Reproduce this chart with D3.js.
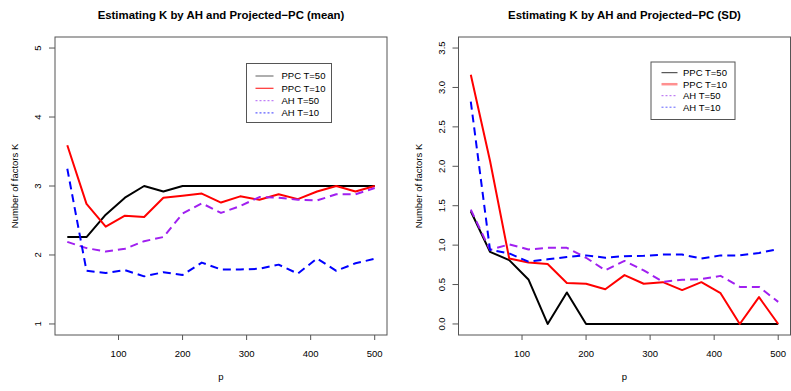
<!DOCTYPE html>
<html>
<head>
  <meta charset="utf-8">
  <title></title>
<style>
  body { margin: 0; background: #fff; }
  svg text { font-family: "Liberation Sans", Arial, sans-serif; fill: #000; }
  .title { font-size: 11.4px; font-weight: bold; text-anchor: middle; }
  .tick-label { font-size: 9.5px; }
  .axis-title { font-size: 9.5px; text-anchor: middle; }
  .legend text { font-size: 9.5px; }
</style>
</head>
<body>
<svg width="791" height="391"></svg>
<script src="https://d3js.org/d3.v7.min.js"></script>
<script>

// p values on the x axis
var pValues = [20, 50, 80, 110, 140, 170, 200, 230, 260, 290, 320, 350, 380, 410, 440, 470, 500];

// mean of estimated K
var meanPPC50 = [2.26, 2.26, 2.585, 2.83, 3.0, 2.92, 3.0, 3.0, 3.0, 3.0, 3.0, 3.0, 3.0, 3.0, 3.0, 3.0, 3.0];
var meanPPC10 = [3.59, 2.74, 2.41, 2.57, 2.55, 2.83, 2.86, 2.89, 2.76, 2.85, 2.80, 2.88, 2.81, 2.92, 3.0, 2.92, 3.0];
var meanAH50  = [2.19, 2.10, 2.05, 2.09, 2.20, 2.26, 2.60, 2.75, 2.61, 2.71, 2.84, 2.83, 2.80, 2.79, 2.88, 2.88, 2.97];
var meanAH10  = [3.25, 1.77, 1.74, 1.78, 1.69, 1.75, 1.71, 1.89, 1.79, 1.79, 1.80, 1.86, 1.73, 1.95, 1.77, 1.88, 1.945];

// SD of estimated K
var sdPPC50 = [1.43, 0.915, 0.81, 0.565, 0, 0.40, 0, 0, 0, 0, 0, 0, 0, 0, 0, 0, 0];
var sdPPC10 = [3.16, 2.07, 0.83, 0.78, 0.76, 0.52, 0.51, 0.44, 0.62, 0.51, 0.53, 0.43, 0.53, 0.39, 0, 0.34, 0];
var sdAH50  = [1.45, 0.94, 1.01, 0.945, 0.966, 0.966, 0.84, 0.68, 0.80, 0.68, 0.535, 0.56, 0.57, 0.61, 0.47, 0.47, 0.28];
var sdAH10  = [2.82, 0.94, 0.895, 0.79, 0.82, 0.85, 0.87, 0.84, 0.86, 0.865, 0.88, 0.88, 0.83, 0.87, 0.87, 0.90, 0.95];

// tick labels
var xTicks = [100, 200, 300, 400, 500];
var meanYTicks = [1, 2, 3, 4, 5];
var sdYTicks = [0, 0.5, 1, 1.5, 2, 2.5, 3, 3.5];

var legendLabels = ["PPC T=50", "PPC T=10", "AH T=50", "AH T=10"];

var svg = d3.select("svg");

// series styles (plot lines)
var styles = [
  { color: "#000000", dash: null },
  { color: "#ff0000", dash: null },
  { color: "#a020f0", dash: "8,5" },
  { color: "#0000ff", dash: "8,5" }
];

function drawPanel(opts) {
  var g = svg.append("g");
  var left = opts.left, right = opts.right, top = 37, bottom = 335;

  // R style 4% padding around data range
  var x = d3.scaleLinear().domain([0.8, 519.2]).range([left, right]);
  var y = d3.scaleLinear().domain(opts.yDomain).range([bottom, top]);

  g.append("text").attr("class", "title")
    .attr("x", (left + right) / 2).attr("y", 19)
    .text(opts.title);

  // x axis ticks
  g.selectAll(".xtick").data(xTicks).enter().append("line")
    .attr("x1", function(d){ return x(d); }).attr("x2", function(d){ return x(d); })
    .attr("y1", bottom).attr("y2", bottom + 5)
    .attr("stroke", "#555");
  g.selectAll(".xlab").data(xTicks).enter().append("text")
    .attr("class", "tick-label")
    .attr("x", function(d){ return x(d); }).attr("y", 356.5)
    .attr("text-anchor", "middle")
    .text(function(d){ return d; });

  // y axis ticks
  g.selectAll(".ytick").data(opts.yTicks).enter().append("line")
    .attr("x1", left - 6).attr("x2", left)
    .attr("y1", function(d){ return y(d); }).attr("y2", function(d){ return y(d); })
    .attr("stroke", "#555");
  g.selectAll(".ylab").data(opts.yTicks).enter().append("text")
    .attr("class", "tick-label")
    .attr("text-anchor", "middle")
    .attr("dy", "0.35em")
    .attr("transform", function(d){ return "translate(" + (left - 17) + "," + y(d) + ") rotate(-90)"; })
    .text(function(d){ return opts.yFormat(d); });

  g.append("text").attr("class", "axis-title")
    .attr("x", (left + right) / 2).attr("y", 380)
    .text("p");
  g.append("text").attr("class", "axis-title")
    .attr("dy", "0.35em")
    .attr("transform", "translate(" + (left - 40) + "," + ((top + bottom) / 2) + ") rotate(-90)")
    .text("Number of factors K");

  // lines
  var line = d3.line()
    .x(function(d, i){ return x(pValues[i]); })
    .y(function(d){ return y(d); });

  opts.series.forEach(function(s, i) {
    g.append("path")
      .attr("d", line(s))
      .attr("fill", "none")
      .attr("stroke", styles[i].color)
      .attr("stroke-width", 2)
      .attr("stroke-dasharray", styles[i].dash)
      .attr("stroke-linejoin", "round");
  });

  // box
  g.append("rect")
    .attr("x", left).attr("y", top)
    .attr("width", right - left).attr("height", bottom - top)
    .attr("fill", "none").attr("stroke", "#555").attr("stroke-width", 1);

  // legend
  var L = opts.legend;
  var lg = g.append("g").attr("class", "legend");
  lg.append("rect")
    .attr("x", L.x).attr("y", L.y).attr("width", L.w).attr("height", L.h)
    .attr("fill", "#fff").attr("stroke", "#555");
  legendLabels.forEach(function(lab, i) {
    var ly = L.y + L.first + i * L.step;
    var st = L.styles[i];
    lg.append("line")
      .attr("x1", L.x + L.lineStart).attr("x2", L.x + L.lineStart + L.lineLen)
      .attr("y1", ly).attr("y2", ly)
      .attr("stroke", st.color).attr("stroke-width", st.width)
      .attr("stroke-dasharray", st.dash);
    lg.append("text")
      .attr("x", L.x + L.textStart).attr("y", ly).attr("dy", "0.35em")
      .text(lab);
  });
}

drawPanel({
  left: 55, right: 387,
  yDomain: [0.84, 5.16],
  yTicks: meanYTicks,
  yFormat: function(d){ return d; },
  title: "Estimating K by AH and Projected\u2212PC (mean)",
  series: [meanPPC50, meanPPC10, meanAH50, meanAH10],
  legend: {
    x: 246.5, y: 63.5, w: 85, h: 59, first: 12.5, step: 12.3,
    lineStart: 9, lineLen: 18, textStart: 35,
    styles: [
      { color: "#777", width: 1.2, dash: null },
      { color: "#ff3030", width: 1.2, dash: null },
      { color: "#c080f8", width: 1.2, dash: "2,2" },
      { color: "#6060ff", width: 1.2, dash: "2,2" }
    ]
  }
});

drawPanel({
  left: 458.5, right: 790.5,
  yDomain: [-0.14, 3.64],
  yTicks: sdYTicks,
  yFormat: d3.format(".1f"),
  title: "Estimating K by AH and Projected\u2212PC (SD)",
  series: [sdPPC50, sdPPC10, sdAH50, sdAH10],
  legend: {
    x: 651, y: 62, w: 84, h: 57.5, first: 10.7, step: 11.5,
    lineStart: 10.5, lineLen: 16, textStart: 32,
    styles: [
      { color: "#333", width: 1, dash: null },
      { color: "#ff9090", width: 2.5, dash: null },
      { color: "#b060f0", width: 1, dash: "2,2" },
      { color: "#6060ff", width: 1, dash: "2,2" }
    ]
  }
});

</script>
</body>
</html>
